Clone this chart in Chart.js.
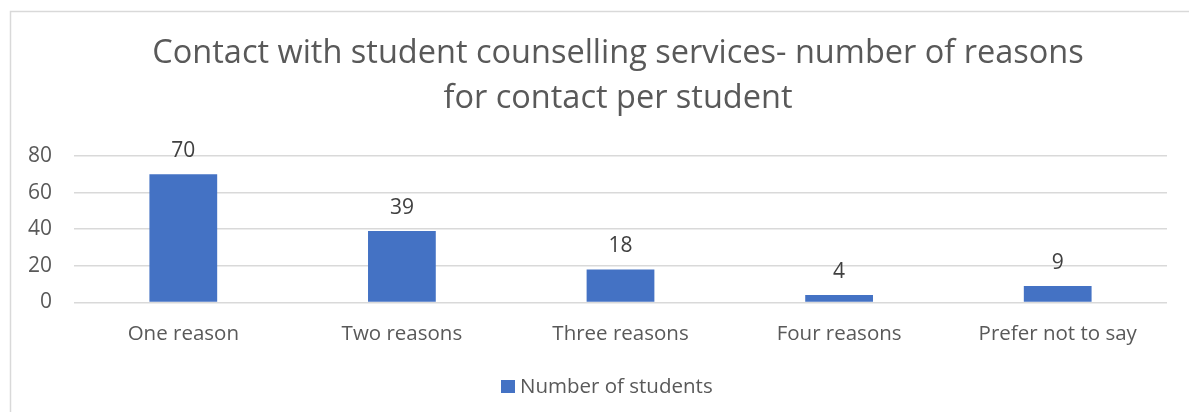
<!DOCTYPE html>
<html>
<head>
<meta charset="utf-8">
<script src="https://cdn.jsdelivr.net/npm/chart.js@4/dist/chart.umd.min.js"></script>
<style>
    html, body { margin: 0; padding: 0; background: #ffffff; }
    #wrap { position: relative; width: 1189px; height: 412px; }
</style>
</head>
<body>
<div id="wrap"><canvas id="reasonsChart"></canvas></div>
<script>
// ===== DATA =====
const categories = ['One reason', 'Two reasons', 'Three reasons', 'Four reasons', 'Prefer not to say'];
const studentCounts = [70, 39, 18, 4, 9];
const seriesName = 'Number of students';
const titleLines = ['Contact with student counselling services- number of reasons', 'for contact per student'];
const yTicks = [0, 20, 40, 60, 80];

const FONT = "'Open Sans', sans-serif";
const TEXT_GREY = '#595959';
const BAR_BLUE = '#4472c4';

// ===== PLUGINS =====
// light frame along the top and left edge of the chart box
const frameLines = {
    id: 'frameLines',
    beforeDraw(chart) {
        const ctx = chart.ctx;
        ctx.save();
        ctx.strokeStyle = '#d9d9d9';
        ctx.lineWidth = 1.5;
        ctx.beginPath();
        ctx.moveTo(10.5, chart.height);
        ctx.lineTo(10.5, 11.5);
        ctx.lineTo(chart.width, 11.5);
        ctx.stroke();
        ctx.restore();
    }
};

// two-line heading, centred on the full chart box (which runs past the right edge)
const heading = {
    id: 'heading',
    afterDraw(chart) {
        const ctx = chart.ctx;
        ctx.save();
        ctx.fillStyle = TEXT_GREY;
        ctx.font = `32.5px ${FONT}`;
        ctx.textAlign = 'center';
        ctx.textBaseline = 'alphabetic';
        titleLines.forEach((line, i) => {
            ctx.fillText(line, 618, 63 + i * 45);
        });
        ctx.restore();
    }
};

// single-series key under the axis, same offset as the heading
const seriesKey = {
    id: 'seriesKey',
    afterDraw(chart) {
        const ctx = chart.ctx;
        ctx.save();
        ctx.fillStyle = chart.data.datasets[0].backgroundColor;
        ctx.fillRect(501, 380, 14, 13);
        ctx.fillStyle = TEXT_GREY;
        ctx.font = `20.5px ${FONT}`;
        ctx.textAlign = 'left';
        ctx.textBaseline = 'alphabetic';
        ctx.fillText(chart.data.datasets[0].label, 520, 393);
        ctx.restore();
    }
};

// value printed above every bar
const barValues = {
    id: 'barValues',
    afterDatasetsDraw(chart) {
        const ctx = chart.ctx;
        const meta = chart.getDatasetMeta(0);
        ctx.save();
        ctx.fillStyle = '#404040';
        ctx.font = `21px ${FONT}`;
        ctx.textAlign = 'center';
        ctx.textBaseline = 'alphabetic';
        meta.data.forEach((bar, i) => {
            ctx.fillText(chart.data.datasets[0].data[i], bar.x, bar.y - 17);
        });
        ctx.restore();
    }
};

// ===== CHART =====
const ctx = document.getElementById('reasonsChart');

new Chart(ctx, {
    type: 'bar',
    data: {
        labels: categories,
        datasets: [{
            label: seriesName,
            data: studentCounts,
            backgroundColor: BAR_BLUE,
            borderWidth: 0,
            categoryPercentage: 1,
            barPercentage: 0.31
        }]
    },
    options: {
        responsive: true,
        maintainAspectRatio: false,
        animation: false,
        layout: {
            padding: { top: 156, right: 22, bottom: 55, left: 20 }
        },
        scales: {
            y: {
                min: 0,
                max: 80,
                afterBuildTicks: axis => {
                    axis.ticks = yTicks.map(v => ({ value: v }));
                },
                afterFit: axis => {
                    axis.width = 54;
                },
                border: { display: false },
                grid: {
                    color: '#d9d9d9',
                    lineWidth: 1.5,
                    drawTicks: false
                },
                ticks: {
                    color: TEXT_GREY,
                    padding: 22,
                    font: { size: 21, family: FONT }
                }
            },
            x: {
                border: { display: false },
                grid: { display: false },
                ticks: {
                    color: TEXT_GREY,
                    padding: 11,
                    font: { size: 20.5, family: FONT }
                }
            }
        },
        plugins: {
            title: { display: false },
            legend: { display: false },
            tooltip: { enabled: false }
        }
    },
    plugins: [frameLines, heading, seriesKey, barValues]
});
</script>
</body>
</html>
